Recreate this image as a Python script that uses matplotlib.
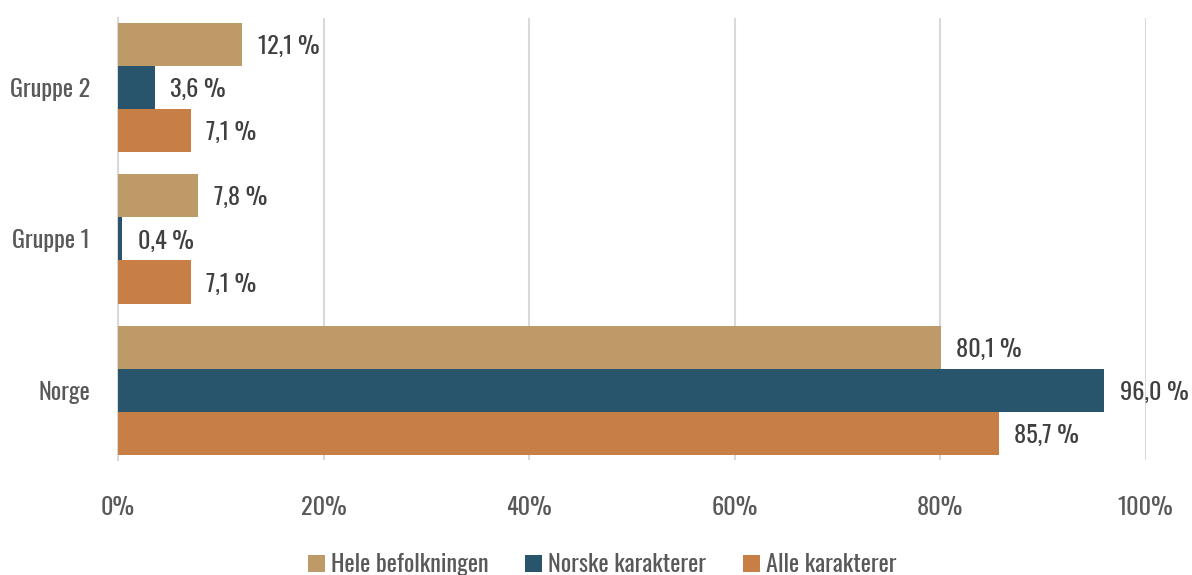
import numpy as np
import matplotlib.pyplot as plt

plt.rcParams['font.family'] = ['Oswald', 'Roboto Condensed', 'DejaVu Sans']

categories = ['Norge', 'Gruppe 1', 'Gruppe 2']
series_names = ['Hele befolkningen', 'Norske karakterer', 'Alle karakterer']
hele = [80.1, 7.8, 12.1]
norske = [96.0, 0.4, 3.6]
alle = [85.7, 7.1, 7.1]
colors = ['#BD9A68', '#28546C', '#C87F45']
tick_labels = ['0%', '20%', '40%', '60%', '80%', '100%']

text_color = '#595959'
fs = 17.5
fig = plt.figure(figsize=(11.92, 5.75), dpi=100)
ax = fig.add_axes([0.099, 0.2, 0.862, 0.769])

y = np.arange(len(categories))
h = 0.285
offsets = [h, 0, -h]
for vals, off, col, name in zip([hele, norske, alle], offsets, colors, series_names):
    bars = ax.barh(y + off, vals, height=h, color=col, label=name, zorder=3)
    for b, v in zip(bars, vals):
        ax.text(v + 1.5, b.get_y() + b.get_height() / 2,
                f"{v:.1f} %".replace('.', ','), va='center_baseline', ha='left',
                fontsize=fs, color='#404040')

ax.set_xlim(0, 100)
ax.set_ylim(-0.46, 2.46)
ax.set_xticks(np.arange(0, 101, 20))
ax.set_xticklabels(tick_labels)
ax.set_yticks(y)
ax.set_yticklabels(categories)
ax.tick_params(axis='both', length=0, labelsize=fs, labelcolor=text_color)
ax.tick_params(axis='x', pad=26)
ax.tick_params(axis='y', pad=20)
ax.grid(axis='x', color='#d9d9d9', linewidth=1.5, zorder=0)
for s in ['top', 'right', 'bottom']:
    ax.spines[s].set_visible(False)
ax.spines['left'].set_color('#d9d9d9')
ax.spines['left'].set_linewidth(1.5)

leg = fig.legend(loc='lower center', ncol=3, frameon=False, fontsize=fs,
                 bbox_to_anchor=(0.505, -0.04), handlelength=0.7, handleheight=0.7,
                 columnspacing=1.5, handletextpad=0.25)
for t in leg.get_texts():
    t.set_color(text_color)

fig.savefig('out.png', dpi=100)
